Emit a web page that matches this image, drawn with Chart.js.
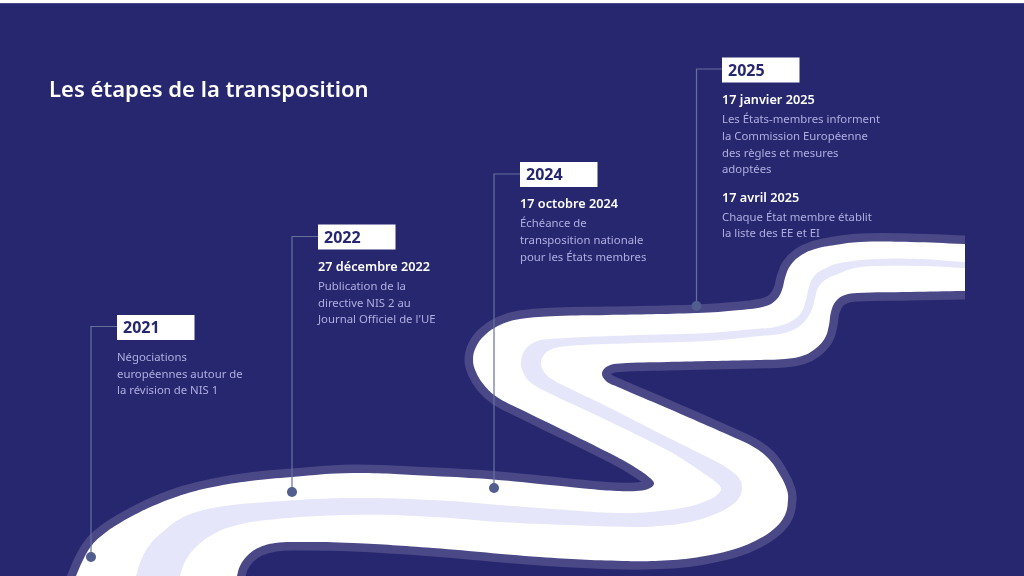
<!DOCTYPE html>
<html><head><meta charset="utf-8">
<style>html,body{margin:0;padding:0;background:#fff}
#w{position:absolute;left:0;top:0;width:1024px;height:576px;background:linear-gradient(#fff 0,#fff 3px,#27276f 3.6px)}
canvas{display:block}</style>
<script src="https://cdn.jsdelivr.net/npm/chart.js@4"></script></head>
<body><div id="w"><canvas id="c" width="1024" height="576"></canvas></div>
<script>
const FONT = '"Noto Sans"';
const titleText = 'Les étapes de la transposition';
const years = ['2021','2022','2024','2025'];
const leaderX = [91,292,494,696.5];
const leaderTopY = [326.5,236.5,174,69];
const leaderEndX = [117,318,520,722];
const markerY = [557,492,488,306];
const boxTopY = [315,224.5,162,57.5];
const boxW = 77.5, boxH = 25;

const roadEdge = [[68,595],[76,576],[83,560],[92,545],[105,533],[120,523],[140,512],[160,503],[185,494],[213,487],[250,481],[292,477],[353,473],[433,476],[493,479.5],[550,485],[590,489],[617,491],[636,491],[648,489],[654,484],[650,478],[636,468],[617,457],[567,432],[520,409],[497,397],[484,385],[476,372],[473,360],[476,347],[485,335],[500,325],[520,319],[557,316],[607,315],[697,313],[740,310],[766,306],[776,300],[782,290],[785,278],[790,266],[800,256],[815,249],[835,245],[860,242],[910,242],[964,244],[985,245],[985,291],[964,291],[910,292],[857,293],[845,295],[836,301],[831,312],[829,325],[825,338],[815,349],[802,356],[785,359],[757,360],[667,362],[620,363.5],[608,366],[602,373],[606,381],[618,387],[667,408],[733,437],[752,446],[768,458],[780,475],[787,490],[788,500],[785,515],[775,528],[757,540],[735,549],[705,556],[673,560],[623,561],[540,557],[433,548],[353,543],[300,542],[275,543],[258,548],[247,556],[240,566],[237,576],[232,595]];
const laneEdge = [[130,595],[136,576],[142,558],[152,542],[165,530],[180,519],[200,511],[225,506],[267,502],[350,498],[433,500],[500,505],[567,510],[617,513],[650,512],[687,507],[706,501],[717,495],[721,489],[717,483],[706,475],[690,464],[667,450],[600,417],[545,391],[530,382],[523,372],[521,362],[525,350],[535,342],[550,339],[640,335],[707,333],[760,328.5],[775,327],[790,322],[801,313],[806,300],[809,287],[815,275],[826,268],[840,263],[877,259],[920,259],[964,262],[985,263],[985,269],[964,268],[920,266],[877,266],[855,268],[838,274],[825,280],[818,288],[815,298],[812,309],[805,321],[795,329],[780,334],[760,336],[707,341],[640,343],[583,345],[560,347],[550,350],[544,355],[541,362],[543,370],[550,378],[575,391],[600,403],[667,437],[717,462],[730,470],[739,478],[742,487],[739,498],[729,507],[713,515],[690,522],[660,526],[633,527],[567,525],[500,522],[433,517],[350,515],[267,520],[230,527],[212,535],[197,546],[186,560],[180,576],[175,595]];

const dates = [
 {t:'27 décembre 2022',x:318,y:271},{t:'17 octobre 2024',x:520,y:208},
 {t:'17 janvier 2025',x:722,y:104},{t:'17 avril 2025',x:722,y:202}];
const bodies = [
 {t:'Négociations',x:117,y:361},{t:'européennes autour de',x:117,y:378},{t:'la révision de NIS 1',x:117,y:394},
 {t:'Publication de la',x:318,y:290},{t:'directive NIS 2 au',x:318,y:307},{t:"Journal Officiel de l'UE",x:318,y:323},
 {t:'Échéance de',x:520,y:227},{t:'transposition nationale',x:520,y:244},{t:'pour les États membres',x:520,y:261},
 {t:'Les États-membres informent',x:722,y:123},{t:'la Commission Européenne',x:722,y:140},{t:'des règles et mesures',x:722,y:157},{t:'adoptées',x:722,y:173},
 {t:'Chaque État membre établit',x:722,y:221},{t:'la liste des EE et EI',x:722,y:237}];

const pts = a => a.map(p=>({x:p[0],y:p[1]}));
const shape = (edge,color,stroke) => ({type:'scatter',data:pts(edge),showLine:true,tension:0.4,capBezierPoints:false,
  fill:'shape',backgroundColor:color,borderColor:color,borderWidth:stroke,borderJoinStyle:'round',pointRadius:0,pointHoverRadius:0,clip:0});
const leaders = years.map((y,i)=>({type:'scatter',
  data:[{x:leaderEndX[i],y:leaderTopY[i]},{x:leaderX[i],y:leaderTopY[i]},{x:leaderX[i],y:markerY[i]}],
  showLine:true,tension:0,borderColor:'#66709f',borderWidth:1.2,pointRadius:[0,0,5],pointBackgroundColor:'#525d90',pointBorderWidth:0,clip:false}));

const textPlugin = {id:'text',afterDatasetsDraw(ch){
  const c=ch.ctx,X=ch.scales.x,Y=ch.scales.y;
  c.save();c.textBaseline='alphabetic';c.textAlign='left';
  const put=(t,x,y,font,col)=>{c.font=font;c.fillStyle=col;c.fillText(t,X.getPixelForValue(x),Y.getPixelForValue(y));};
  put(titleText,49,97,'600 22px '+FONT,'#ffffff');
  years.forEach((yr,i)=>{
    c.fillStyle='#ffffff';
    c.fillRect(X.getPixelForValue(leaderEndX[i]),Y.getPixelForValue(boxTopY[i]),boxW,boxH);
    put(yr,leaderEndX[i]+6,boxTopY[i]+18,'700 16px '+FONT,'#27276f');
  });
  dates.forEach(d=>put(d.t,d.x,d.y,'600 12.7px '+FONT,'#ffffff'));
  bodies.forEach(d=>put(d.t,d.x,d.y,'400 11.35px '+FONT,'#aeaee2'));
  c.restore();
}};

new Chart(document.getElementById('c'),{
  data:{datasets:[...leaders.map(l=>({...l,order:0})),
    {...shape(roadEdge,'#4a4886',17),order:3},
    {...shape(roadEdge,'#ffffff',0),order:2},
    {...shape(laneEdge,'#e6e6fa',0),order:1}]},
  plugins:[textPlugin],
  options:{responsive:false,animation:false,devicePixelRatio:1,
    layout:{autoPadding:false,padding:{left:0,top:0,bottom:0,right:59}},
    plugins:{legend:{display:false},tooltip:{enabled:false},title:{display:false}},
    scales:{x:{type:'linear',min:0,max:965,display:false},y:{type:'linear',min:0,max:576,reverse:true,display:false}}}
});
</script></body></html>
